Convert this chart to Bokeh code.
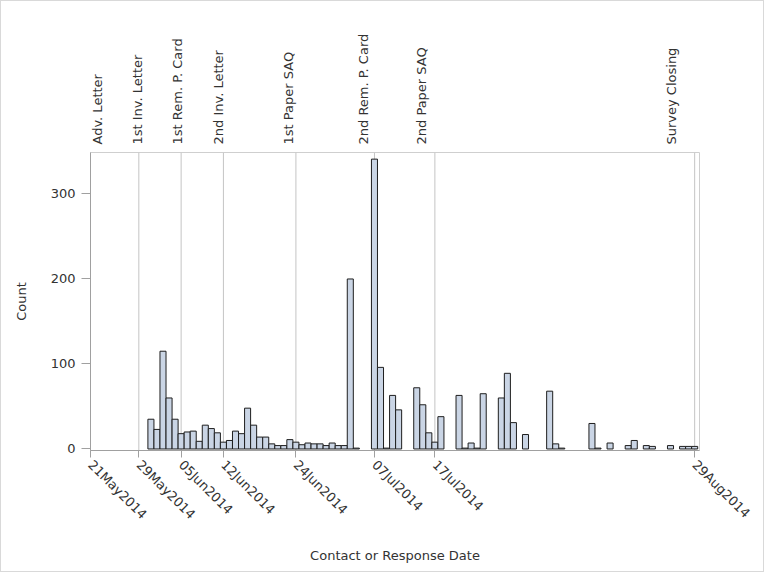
import math
import pandas as pd
from bokeh.plotting import figure
from bokeh.layouts import column
from bokeh.models import (ColumnDataSource, Range1d, Span, FixedTicker,
                          DatetimeTickFormatter)
from bokeh.core.properties import value
from bokeh.embed import file_html
from bokeh.resources import INLINE

# ---- data ----
dates = ["2014-05-31", "2014-06-01", "2014-06-02", "2014-06-03", "2014-06-04",
         "2014-06-05", "2014-06-06", "2014-06-07", "2014-06-08", "2014-06-09",
         "2014-06-10", "2014-06-11", "2014-06-12", "2014-06-13", "2014-06-14",
         "2014-06-15", "2014-06-16", "2014-06-17", "2014-06-18", "2014-06-19",
         "2014-06-20", "2014-06-21", "2014-06-22", "2014-06-23", "2014-06-24",
         "2014-06-25", "2014-06-26", "2014-06-27", "2014-06-28", "2014-06-29",
         "2014-06-30", "2014-07-01", "2014-07-02", "2014-07-03", "2014-07-04",
         "2014-07-07", "2014-07-08", "2014-07-09", "2014-07-10", "2014-07-11",
         "2014-07-14", "2014-07-15", "2014-07-16", "2014-07-17", "2014-07-18",
         "2014-07-21", "2014-07-22", "2014-07-23", "2014-07-24", "2014-07-25",
         "2014-07-28", "2014-07-29", "2014-07-30", "2014-08-01", "2014-08-05",
         "2014-08-06", "2014-08-07", "2014-08-12", "2014-08-13", "2014-08-15",
         "2014-08-18", "2014-08-19", "2014-08-21", "2014-08-22", "2014-08-25",
         "2014-08-27", "2014-08-28", "2014-08-29"]
counts = [35, 23, 115, 60, 35,
          18, 20, 21, 9, 28,
          24, 19, 8, 10, 21,
          18, 48, 28, 14, 14,
          6, 4, 4, 11, 8,
          5, 7, 6, 6, 4,
          7, 4, 4, 200, 1,
          341, 96, 1, 63, 46,
          72, 52, 19, 8, 38,
          63, 1, 7, 1, 65,
          60, 89, 31, 17, 68,
          6, 1, 30, 1, 7,
          4, 10, 4, 3, 4,
          3, 3, 3]

event_dates = ["2014-05-21", "2014-05-29", "2014-06-05", "2014-06-12",
               "2014-06-24", "2014-07-07", "2014-07-17", "2014-08-29"]
event_labels = ["Adv. Letter", "1st Inv. Letter", "1st Rem. P. Card",
                "2nd Inv. Letter", "1st Paper SAQ", "2nd Rem. P. Card",
                "2nd Paper SAQ", "Survey Closing"]
y_ticks = [0, 100, 200, 300]

# ---- helpers ----
EPOCH = pd.Timestamp("1970-01-01")
DAY_MS = 86400000.0


def to_ms(d):
    return (pd.Timestamp(d) - EPOCH) / pd.Timedelta(milliseconds=1)


x_ms = [to_ms(d) for d in dates]
ev_ms = [to_ms(d) for d in event_dates]

FONT = "DejaVu Sans"
TXT = "#333333"
AX = "#A0A0A0"
W = 762
TOP_H = 151
LEFT_B, RIGHT_B = 89, 64
x_start = ev_ms[0]
x_end = ev_ms[-1] + 0.8 * DAY_MS
px_per_ms = (W - LEFT_B - RIGHT_B) / (x_end - x_start)

# ---- top strip with event labels (same x scale) ----
TOP_RIGHT_B = 40
top_end = x_start + (W - LEFT_B - TOP_RIGHT_B) / px_per_ms
top = figure(width=W, height=TOP_H, output_backend="svg", toolbar_location=None,
             x_range=Range1d(start=x_start, end=top_end),
             y_range=Range1d(start=0, end=TOP_H),
             x_axis_location=None, y_axis_location=None,
             min_border_left=LEFT_B, min_border_right=TOP_RIGHT_B,
             min_border_top=0, min_border_bottom=0)
top.xgrid.visible = False
top.ygrid.visible = False
top.outline_line_color = None
top.background_fill_color = "white"
top.border_fill_color = "white"

lab_offsets = [7, 0, 0, 0, 0, 0, 0, 0]
lab_src = ColumnDataSource(dict(x=ev_ms, y=[8] * len(ev_ms),
                                text=event_labels, xo=lab_offsets))
top.text(x="x", y="y", text="text", x_offset="xo", source=lab_src,
         angle=math.pi / 2, text_align="left", text_baseline="middle",
         text_font=value(FONT), text_font_size="13px", text_color=TXT)

# ---- main histogram ----
p = figure(width=W, height=570 - TOP_H, output_backend="svg",
           toolbar_location=None, x_axis_type="datetime",
           x_range=Range1d(start=x_start, end=x_end),
           y_range=Range1d(start=-1.8, end=348.8),
           min_border_left=LEFT_B, min_border_right=RIGHT_B,
           min_border_top=0, min_border_bottom=121)

p.xgrid.visible = False
p.ygrid.visible = False
p.outline_line_color = "#CFCFCF"
p.background_fill_color = "white"
p.border_fill_color = "white"

for loc in ev_ms:
    p.add_layout(Span(location=loc, dimension="height", line_color="#C4C4C4",
                      line_width=1, level="underlay"))

src = ColumnDataSource(dict(x=x_ms, top=counts))
p.vbar(x="x", top="top", bottom=0, width=DAY_MS, source=src,
       fill_color="#CAD5E5", line_color="#1E1E1E", line_width=1)

xa = p.xaxis[0]
xa.ticker = FixedTicker(ticks=ev_ms)
fmt = "%d%b%Y"
xa.formatter = DatetimeTickFormatter(milliseconds=fmt, seconds=fmt, minsec=fmt,
                                     minutes=fmt, hourmin=fmt, hours=fmt,
                                     days=fmt, months=fmt, years=fmt)
xa.major_label_orientation = -math.pi / 4
xa.axis_label = "Contact or Response Date"

ya = p.yaxis[0]
ya.ticker = FixedTicker(ticks=y_ticks)
ya.axis_label = "Count"

for ax in (xa, ya):
    ax.axis_line_color = AX
    ax.major_tick_line_color = AX
    ax.minor_tick_line_color = None
    ax.major_tick_in = 0
    ax.major_label_text_font = FONT
    ax.major_label_text_color = TXT
    ax.axis_label_text_font = FONT
    ax.axis_label_text_color = TXT
    ax.axis_label_text_font_style = "normal"
    ax.axis_label_text_font_size = "13px"

xa.major_tick_out = 7
xa.major_label_text_font_size = "13px"
xa.axis_label_standoff = 18
ya.major_tick_out = 9
ya.major_label_text_font_size = "13px"
ya.major_label_standoff = 6
ya.axis_label_standoff = 19

layout = column(top, p, spacing=0)
layout.styles = {"border": "1px solid #D9D9D9"}

open("out.html", "w").write(file_html(layout, INLINE))
